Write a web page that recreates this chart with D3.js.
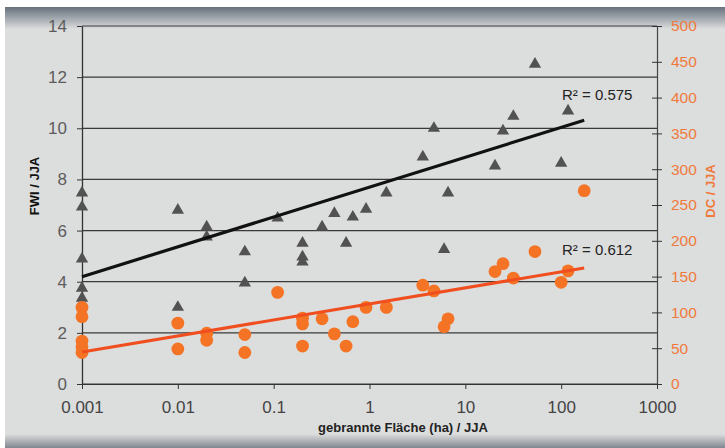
<!DOCTYPE html>
<html>
<head>
<meta charset="utf-8">
<script src="https://cdn.jsdelivr.net/npm/d3@7"></script>
<style>
  html, body { margin: 0; padding: 0; background: #ffffff; }
  svg { display: block; }
</style>
</head>
<body>
<svg id="chart" width="725" height="448"></svg>
<script>
// ---- data ----
const area = [0.001, 0.001, 0.001, 0.001, 0.001, 0.01, 0.01, 0.02, 0.02, 0.05, 0.05, 0.11,
  0.2, 0.2, 0.2, 0.32, 0.43, 0.57, 0.67, 0.92, 1.5, 3.6, 4.7, 6.0, 6.6,
  20.4, 24.7, 31.7, 53.3, 100, 118, 174];
const fwi = [7.47, 6.92, 4.89, 3.75, 3.36, 6.8, 3.0, 6.14, 5.75, 5.17, 3.95, 6.49,
  5.51, 4.97, 4.77, 6.14, 6.67, 5.51, 6.53, 6.84, 7.47, 8.88, 10.0, 5.26, 7.47,
  8.53, 9.9, 10.47, 12.51, 8.64, 10.68, null];
const dc = [107, 94, 60, 52, 44, 85, 49, 71, 61, 69, 44, 128,
  92, 84, 53, 91, 70, 53, 87, 107, 107, 138, 130, 80, 91,
  157, 168, 148, 185, 142, 158, 270];
// logarithmic trend lines: value = a + b * log10(area)
const fwiTrend = [7.70, 1.168];
const dcTrend = [111.9, 22.4];
const fwiR2 = "R\u00B2 = 0.575";
const dcR2 = "R\u00B2 = 0.612";
const xTicks = [0.001, 0.01, 0.1, 1, 10, 100, 1000];
const xTickLabels = ["0.001", "0.01", "0.1", "1", "10", "100", "1000"];
const yTicks = [0, 2, 4, 6, 8, 10, 12, 14];
const y2Ticks = [0, 50, 100, 150, 200, 250, 300, 350, 400, 450, 500];
const xTitle = "gebrannte Fl\u00E4che (ha) / JJA";
const yTitle = "FWI / JJA";
const y2Title = "DC / JJA";

// ---- layout ----
const W = 725, H = 448;
const L = 82, R = 657, T = 26, B = 384;
const svg = d3.select("#chart");
const FONT = "'Liberation Sans', Arial, sans-serif";

// background panel with gradients
const defs = svg.append("defs");
const gTop = defs.append("linearGradient").attr("id", "gTop").attr("x1", 0).attr("y1", 0).attr("x2", 0).attr("y2", 1);
gTop.append("stop").attr("offset", "0%").attr("stop-color", "#68727d");
gTop.append("stop").attr("offset", "45%").attr("stop-color", "#9aa1a8");
gTop.append("stop").attr("offset", "100%").attr("stop-color", "#dcdddd");
const gBot = defs.append("linearGradient").attr("id", "gBot").attr("x1", 0).attr("y1", 0).attr("x2", 0).attr("y2", 1);
gBot.append("stop").attr("offset", "0%").attr("stop-color", "#dcdddd");
gBot.append("stop").attr("offset", "100%").attr("stop-color", "#7f878f");

svg.append("rect").attr("width", W).attr("height", H).attr("fill", "#ffffff");
svg.append("rect").attr("x", 5).attr("y", 7).attr("width", W - 5).attr("height", H - 7).attr("fill", "#dcdddd");
svg.append("rect").attr("x", 5).attr("y", 7).attr("width", W - 5).attr("height", 22).attr("fill", "url(#gTop)");
svg.append("rect").attr("x", 5).attr("y", 434).attr("width", W - 5).attr("height", 14).attr("fill", "url(#gBot)");

// scales
const x = d3.scaleLog().domain([0.001, 1000]).range([L, R]);
const y = d3.scaleLinear().domain([0, 14]).range([B, T]);
const y2 = d3.scaleLinear().domain([0, 500]).range([B, T]);

// gridlines
svg.append("g").selectAll("line").data(yTicks).join("line")
  .attr("x1", L).attr("x2", R)
  .attr("y1", d => y(d)).attr("y2", d => y(d))
  .attr("stroke", "#3a3a3a").attr("stroke-width", 1.2);

// left axis
const ax = svg.append("g").attr("transform", `translate(${L},0)`)
  .call(d3.axisLeft(y).tickValues(yTicks).tickFormat(d3.format("d")).tickSizeInner(5).tickSizeOuter(0).tickPadding(10));
ax.select(".domain").attr("stroke", "#333").attr("stroke-width", 1.3);
ax.selectAll(".tick line").attr("stroke", "#333");
ax.selectAll(".tick text").attr("fill", "#5c5c5c").attr("font-family", FONT).attr("font-size", 17);

// right axis
const ar = svg.append("g").attr("transform", `translate(${R},0)`)
  .call(d3.axisRight(y2).tickValues(y2Ticks).tickFormat(d3.format("d")).tickSizeInner(5).tickSizeOuter(0).tickPadding(9));
ar.select(".domain").attr("stroke", "#444").attr("stroke-width", 1.2);
ar.selectAll(".tick line").attr("x1", -5).attr("stroke", "#333");
ar.selectAll(".tick text").attr("fill", "#f07a3c").attr("font-family", FONT).attr("font-size", 15.5);

// bottom axis
const axb = svg.append("g").attr("transform", `translate(0,${B})`)
  .call(d3.axisBottom(x).tickValues(xTicks).tickFormat((d, i) => xTickLabels[i]).tickSizeInner(5).tickSizeOuter(0).tickPadding(12));
axb.select(".domain").attr("stroke", "#333").attr("stroke-width", 1.2);
axb.selectAll(".tick line").attr("stroke", "#333");
axb.selectAll(".tick text").attr("fill", "#444").attr("font-family", FONT).attr("font-size", 17);

// points
const pts = area.map((a, i) => ({ a, f: fwi[i], d: dc[i] }));
const tri = d3.symbol().type(d3.symbolTriangle).size(66);
svg.append("g").selectAll("path").data(pts.filter(p => p.f != null)).join("path")
  .attr("d", tri)
  .attr("transform", p => `translate(${x(p.a)},${y(p.f)})`)
  .attr("fill", "#525252");
svg.append("g").selectAll("circle").data(pts.filter(p => p.d != null)).join("circle")
  .attr("cx", p => x(p.a)).attr("cy", p => y2(p.d)).attr("r", 6.4)
  .attr("fill", "#f47324");

// trend lines
const xr = d3.extent(area);
const lineF = d3.line().x(d => x(d)).y(d => y(fwiTrend[0] + fwiTrend[1] * Math.log10(d)));
const lineD = d3.line().x(d => x(d)).y(d => y2(dcTrend[0] + dcTrend[1] * Math.log10(d)));
svg.append("path").attr("d", lineF(xr)).attr("stroke", "#111").attr("stroke-width", 3.2).attr("fill", "none");
svg.append("path").attr("d", lineD(xr)).attr("stroke", "#f04e1e").attr("stroke-width", 3).attr("fill", "none");

// R² labels
svg.append("text").attr("x", 562).attr("y", 100).text(fwiR2)
  .attr("font-family", FONT).attr("font-size", 15).attr("fill", "#222");
svg.append("text").attr("x", 562).attr("y", 255).text(dcR2)
  .attr("font-family", FONT).attr("font-size", 15).attr("fill", "#222");

// titles
svg.append("text").attr("x", 403).attr("y", 432).attr("text-anchor", "middle").text(xTitle)
  .attr("font-family", FONT).attr("font-size", 13).attr("font-weight", "bold").attr("fill", "#222");
svg.append("text").attr("transform", "translate(39,186) rotate(-90)").attr("text-anchor", "middle").text(yTitle)
  .attr("font-family", FONT).attr("font-size", 13).attr("font-weight", "bold").attr("fill", "#111");
svg.append("text").attr("transform", "translate(715,191) rotate(-90)").attr("text-anchor", "middle").text(y2Title)
  .attr("font-family", FONT).attr("font-size", 13).attr("font-weight", "bold").attr("fill", "#f07a3c");
</script>
</body>
</html>
